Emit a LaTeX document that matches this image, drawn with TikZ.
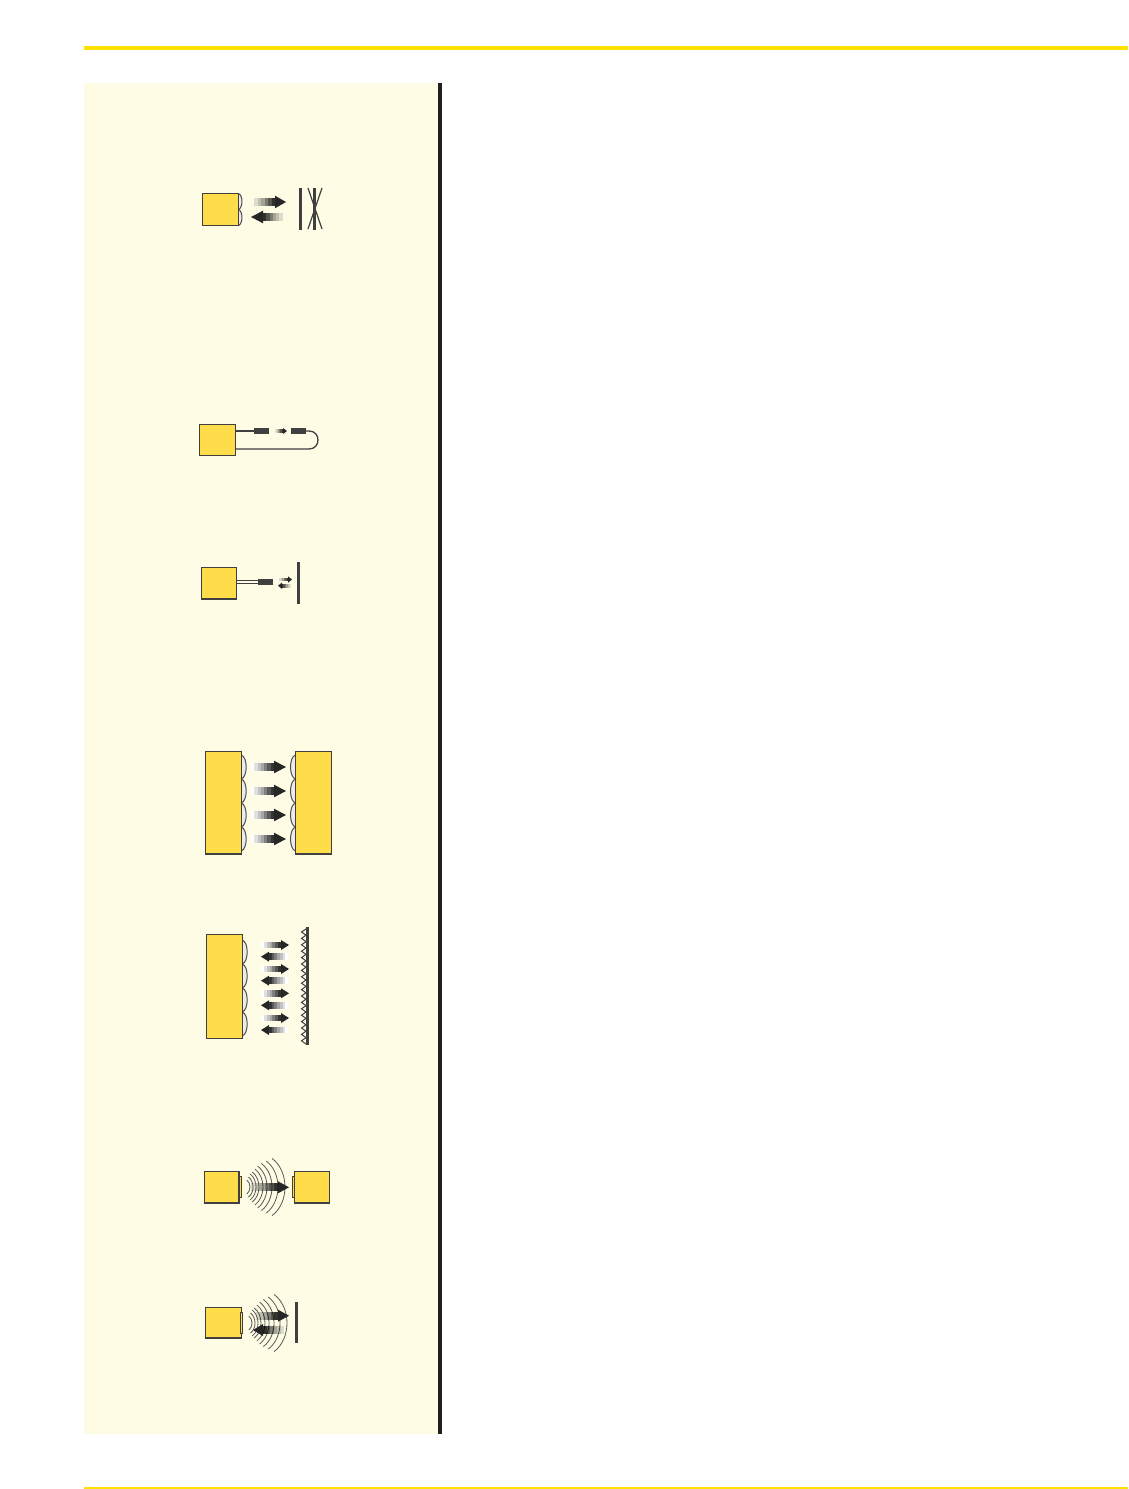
\documentclass[tikz,border=0pt]{standalone}
\definecolor{panelbg}{HTML}{FEFCE5}
\definecolor{barblack}{HTML}{231F20}
\definecolor{rulegold}{HTML}{FFE100}
\definecolor{boxgold}{HTML}{FFDC4A}
\definecolor{inkgrey}{HTML}{404040}
\definecolor{lensfill}{HTML}{ECECEC}
\tikzset{
  ybox/.style={draw=inkgrey,fill=boxgold,line width=1.2pt,inner sep=0pt,outer sep=0pt},
  cblock/.style={fill=inkgrey,inner sep=0pt,outer sep=0pt},
  cable/.style={draw=inkgrey,line width=1.3pt},
  wallbar/.style={fill=inkgrey},
  wave/.style={draw=black!65,line width=.8pt},
  lens/.style={draw=black!70,fill=lensfill,line width=1pt},
}
% from-x, head base x, tip x, y, shaft half, head half, underlay colour; steps of grey
\newcommand{\grA}[7]{%
  \fill[fill=#7] (#1,#4-#5) rectangle (#2,#4+#5);
  \foreach \i/\o in {1/.12,2/.24,3/.35,4/.5,5/.65,6/.8}{
    \fill[black,fill opacity=\o] ({#1+\i*(#2-(#1))/7},#4-#5) rectangle ({#1+(\i+1)*(#2-(#1))/7},#4+#5);
  }
  \fill[black!85] (#2,#4-#6) -- (#3,#4) -- (#2,#4+#6) -- cycle;}
% x, y1, y2, bulge
\newcommand{\lensat}[4]{%
  \path[lens] (#1,#2) .. controls ({#1+1.33*(#4)},{#2+2}) and ({#1+1.33*(#4)},{#3-2}) .. (#1,#3);}
% wave family: tip offset / half height
\newcommand{\wavesat}[2]{%
  \foreach \t/\h in {3/7,6/10,9/13,12/15,16/18,20/21,25/23.5,31/26,38/28.5}{
    \draw[wave] ({#1+\t-.45*\h},{#2-\h}) .. controls ({#1+\t+.15*\h},{#2-.55*\h}) and ({#1+\t+.15*\h},{#2+.55*\h}) .. ({#1+\t-.45*\h},{#2+\h});
  }}
\begin{document}
\begin{tikzpicture}[x=1pt,y=-1pt]
\useasboundingbox (0,0) rectangle (1128,1489);
\fill[white] (0,0) rectangle (1128,1489);
% page furniture
\fill[rulegold] (84,46) rectangle (1128,50);
\fill[rulegold] (84,1487) rectangle (1128,1489);
\fill[panelbg] (84,83) rectangle (438,1434);
\fill[barblack] (438,83) rectangle (442,1434);

% 1: two lenses, mirror, crossed
\lensat{238.5}{193.5}{209.5}{3.5}
\lensat{238.5}{209.5}{225.5}{3.5}
\node[ybox,minimum width=36pt,minimum height=32pt] (a1) at (220.5,209.5) {};
\grA{251}{275}{286}{202}{4}{6.3}{panelbg}
\grA{286}{263}{251}{217}{4}{6.3}{panelbg}
\fill[wallbar] (299,188) rectangle (302,230);
\fill[wallbar] (313,188) rectangle (316,230);
\draw[inkgrey,line width=1.2pt] (308,229) -- (322,188);
\draw[inkgrey,line width=1.2pt] (308,188) -- (322,229);

% 2: loop fibre
\node[ybox,minimum width=36pt,minimum height=31pt] (a2) at (217.5,440) {};
\node[cblock,minimum width=15pt,minimum height=6pt] (b2a) at (261.5,431) {};
\node[cblock,minimum width=15pt,minimum height=6pt] (b2b) at (298.5,431) {};
\draw[cable] (a2.east |- b2a) -- (b2a.west);
\draw[cable] (b2b.east) -- (309,431) .. controls (321,431) and (321,449) .. (309,449) -- (a2.east |- 0,449);
\grA{274}{283}{287}{431}{1.7}{3}{panelbg}

% 3: double fibre and mirror
\node[ybox,minimum width=35pt,minimum height=31.5pt] (a3) at (219,583.25) {};
\node[cblock,minimum width=15pt,minimum height=6pt] (b3) at (265.5,582) {};
\draw[inkgrey,line width=1.2pt] (a3.east |- 0,580.3) -- (b3.west |- 0,580.3);
\draw[inkgrey,line width=1.2pt] (a3.east |- 0,583.4) -- (b3.west |- 0,583.4);
\grA{278}{288}{292}{579.5}{1.9}{3.2}{panelbg}
\grA{292}{282}{278}{585.7}{1.9}{3.2}{panelbg}
\fill[wallbar] (297,562) rectangle (300,604);

% 4: four lenses facing four lenses
\foreach \yt in {755,779,803,827}{
  \lensat{241.2}{\yt}{\yt+24}{5}
  \lensat{295.5}{\yt}{\yt+24}{-5}
}
\node[ybox,minimum width=35.7pt,minimum height=102.5pt] (a4) at (223.35,802.75) {};
\node[ybox,minimum width=35.7pt,minimum height=102.5pt] (c4) at (313.35,802.75) {};
\foreach \ya in {767,791,815,839}{
  \grA{251}{274}{286}{\ya}{4}{6.3}{white}
}

% 5: lenses and rough surface
\foreach \yt in {940,964,988,1012}{
  \lensat{242.2}{\yt}{\yt+24}{5}
}
\node[ybox,minimum width=35.7pt,minimum height=103.7pt] (a5) at (224.35,986.35) {};
\foreach \ya in {945,969,993.3,1018}{
  \grA{261}{281}{289}{\ya}{3.3}{5}{white}
}
\foreach \ya in {956.7,980.7,1005.3,1030}{
  \grA{288}{269}{261}{\ya}{3.3}{5}{white}
}
\fill[wallbar] (306,927) rectangle (309,1045);
\draw[inkgrey,line width=1pt] (306,929)
  \foreach \n in {0,...,17}{ -- (301.5,{932+6.4*\n}) -- (306,{935.2+6.4*\n}) };

% 6: emitter to receiver via waves
\node[ybox,minimum width=34.5pt,minimum height=31.5pt] (a6) at (221.75,1187.25) {};
\node[ybox,minimum width=35pt,minimum height=31.5pt] (c6) at (312,1187.25) {};
\node[ybox,line width=.9pt,minimum width=2pt,minimum height=21pt] (e6) at (240.5,1186.5) {};
\node[ybox,line width=.9pt,minimum width=2pt,minimum height=21pt] (r6) at (293,1186.5) {};
\wavesat{247}{1187}
\grA{247}{278}{289}{1187.3}{4}{6}{none}

% 7: emitter, waves, reflector
\node[ybox,minimum width=35.7pt,minimum height=30.5pt] (a7) at (223.35,1322.75) {};
\node[ybox,line width=.9pt,minimum width=2.4pt,minimum height=21pt] (e7) at (241.4,1323) {};
\wavesat{249}{1323}
\grA{252}{278}{289}{1315.7}{4}{6}{none}
\grA{288}{263}{253}{1330}{4}{6}{none}
\fill[wallbar] (295,1302) rectangle (298,1343);
\end{tikzpicture}
\end{document}
